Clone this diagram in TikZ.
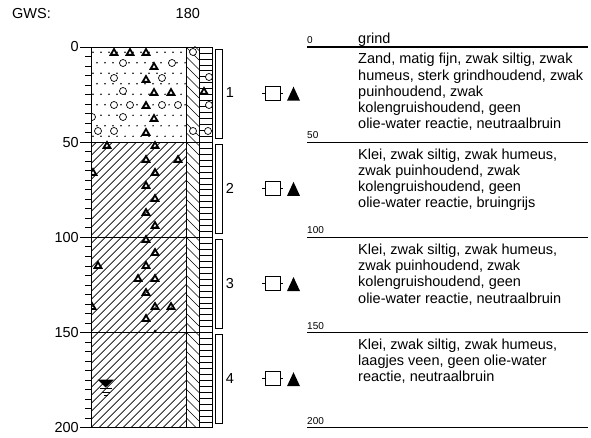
\documentclass[tikz,border=0pt]{standalone}
\usepackage{fontspec}
\setmainfont{Liberation Sans}
\begin{document}
\begin{tikzpicture}[x=1pt,y=-1pt,
  frame/.style={line width=0.8pt},
  bnd/.style={line width=1.3pt},
  hatch/.style={line width=0.65pt},
  gravel/.style={line width=1.8pt, line join=miter},
  pebble/.style={line width=0.7pt, fill=white},
  big/.style={font=\fontsize{14.5}{16}\selectfont, inner sep=0pt},
  small/.style={font=\fontsize{10}{12}\selectfont, inner sep=0pt, anchor=base west},
  descline/.style={big, anchor=base west},
]
\useasboundingbox (0,0) rectangle (591,438);

% header
\node[big, anchor=base west] (gws) at (12,18.3) {GWS:};
\node[big, anchor=base west] (gwsval) at (175.5,18.3) {180};

% clay hatch (layers 2-4)
\begin{scope}
  \clip (91,142.2) rectangle (186,427.7);
  \foreach \i in {-37,...,12} \draw[hatch] (91+8*\i,427.7) -- ++(300,-300);
\end{scope}
% strip with backslash hatch
\begin{scope}
  \clip (186,47) rectangle (199,427.7);
  \foreach \i in {-2,...,42} \draw[hatch] (186,47+9.5*\i) -- ++(13,13);
\end{scope}
% strip with horizontal lines
\foreach \k in {1,...,63} \draw[hatch] (199,47+5.95*\k) -- (212,47+5.95*\k);

% sand dots (layer 1)
\begin{scope}
  \clip (91,47) rectangle (186,142.2);
  \foreach \r in {0,...,8} {
    \pgfmathsetmacro\yy{52.3+10.5*\r}
    \pgfmathsetmacro\off{mod(\r,2)*4}
    \foreach \c in {0,...,11} \fill (93+\off+8*\c,\yy) circle (0.8);
  }
\end{scope}

% pebbles and gravel in layer 1
\begin{scope}
  \clip (91,47) rectangle (212,142.2);
  \foreach \x/\y in {123/63,172/63,114/78,162/78,123/91,114/105,130/105,162/105,178/105,92/117,123/117,98/131,114/131,193/52,209/77,209/105,193/131,208/131}
    \draw[pebble] (\x,\y) circle (3.5);
  \foreach \x/\y in {114/52,130/52,146/52,154/66,146/79,154/92,171/92,146/105,154/118,146/132,204/91}
    \draw[gravel] (\x-3.4,\y+2.9) -- (\x+3.4,\y+2.9) -- (\x,\y-2.9) -- cycle;
\end{scope}
% gravel in layer 2
\begin{scope}
  \clip (91,138) rectangle (186,237.35);
  \foreach \x/\y in {107/145,155/145,146/159,178/159,93/172,155/172,146/185,155/198,146/212,155/225}
    \draw[gravel] (\x-3.4,\y+2.9) -- (\x+3.4,\y+2.9) -- (\x,\y-2.9) -- cycle;
\end{scope}
% gravel in layer 3
\begin{scope}
  \clip (91,230) rectangle (186,332.5);
  \foreach \x/\y in {146/239,155/252,98/265,146/265,138/278,155/278,146/292,92/306,155/306,171/306,146/318,155/334}
    \draw[gravel] (\x-3.4,\y+2.9) -- (\x+3.4,\y+2.9) -- (\x,\y-2.9) -- cycle;
\end{scope}

% groundwater symbol
\fill (97.5,379.5) -- (114,379.5) -- (105.7,387.5) -- cycle;
\draw[line width=0.8pt] (99.5,388.7) -- (112,388.7);
\draw[line width=0.8pt] (102,392) -- (109.5,392);
\draw[line width=0.8pt] (104,395.3) -- (107.5,395.3);

% column frame
\draw[frame] (91,47) rectangle (212,427.7);
\draw[frame] (186,47) -- (186,427.7);
\draw[frame] (199,47) -- (199,427.7);
\foreach \yy in {142.2,237.35,332.5} \draw[bnd] (91,\yy) -- (212,\yy);

% depth axis
\foreach \d in {0,5,...,200} \draw[frame] (85,47+1.9035*\d) -- (91,47+1.9035*\d);
\foreach \d in {0,50,...,200} {
  \draw[frame] (80,47+1.9035*\d) -- (91,47+1.9035*\d);
  \node[big, anchor=east] (ax\d) at (79,47+1.9035*\d) {\d};
}

% sample bars, numbers and icons
\foreach \k in {1,...,4} {
  \pgfmathsetmacro\top{47+1.9035*50*(\k-1)+2}
  \pgfmathsetmacro\bot{47+1.9035*50*\k-4}
  \pgfmathsetmacro\cy{93+95.17*(\k-1)}
  \draw[frame] (215.7,\top) rectangle (222.3,\bot);
  \node[big] (num\k) at (230,\cy) {\k};
  \draw[frame] (262,\cy) -- (265,\cy);
  \draw[frame] (265,\cy-7) rectangle (280,\cy+7);
  \draw[frame] (280,\cy) -- (283,\cy);
  \fill (287,\cy+7.7) -- (300,\cy+7.7) -- (293.5,\cy-6.3) -- cycle;
}

% description lines
\foreach \d in {0,50,...,200} \draw[bnd] (307,47+1.9035*\d) -- (588,47+1.9035*\d);
\node[small] (d0) at (307,43.5) {0};
\node[small] (d50) at (307,138.8) {50};
\node[small] (d100) at (307,233.8) {100};
\node[small] (d150) at (307,329) {150};
\node[small] (d200) at (307,424.2) {200};
\node[descline] (g0) at (358,44) {grind};

\foreach \t [count=\i from 0] in {{Zand, matig fijn, zwak siltig, zwak},{humeus, sterk grindhoudend, zwak},{puinhoudend, zwak},{kolengruishoudend, geen},{olie-water reactie, neutraalbruin}}
  \node[descline] (a\i) at (358,64+16.2*\i) {\t};
\foreach \t [count=\i from 0] in {{Klei, zwak siltig, zwak humeus,},{zwak puinhoudend, zwak},{kolengruishoudend, geen},{olie-water reactie, bruingrijs}}
  \node[descline] (b\i) at (358,159.2+16.2*\i) {\t};
\foreach \t [count=\i from 0] in {{Klei, zwak siltig, zwak humeus,},{zwak puinhoudend, zwak},{kolengruishoudend, geen},{olie-water reactie, neutraalbruin}}
  \node[descline] (c\i) at (358,254.4+16.2*\i) {\t};
\foreach \t [count=\i from 0] in {{Klei, zwak siltig, zwak humeus,},{laagjes veen, geen olie-water},{reactie, neutraalbruin}}
  \node[descline] (e\i) at (358,349.5+16.2*\i) {\t};
\end{tikzpicture}
\end{document}
